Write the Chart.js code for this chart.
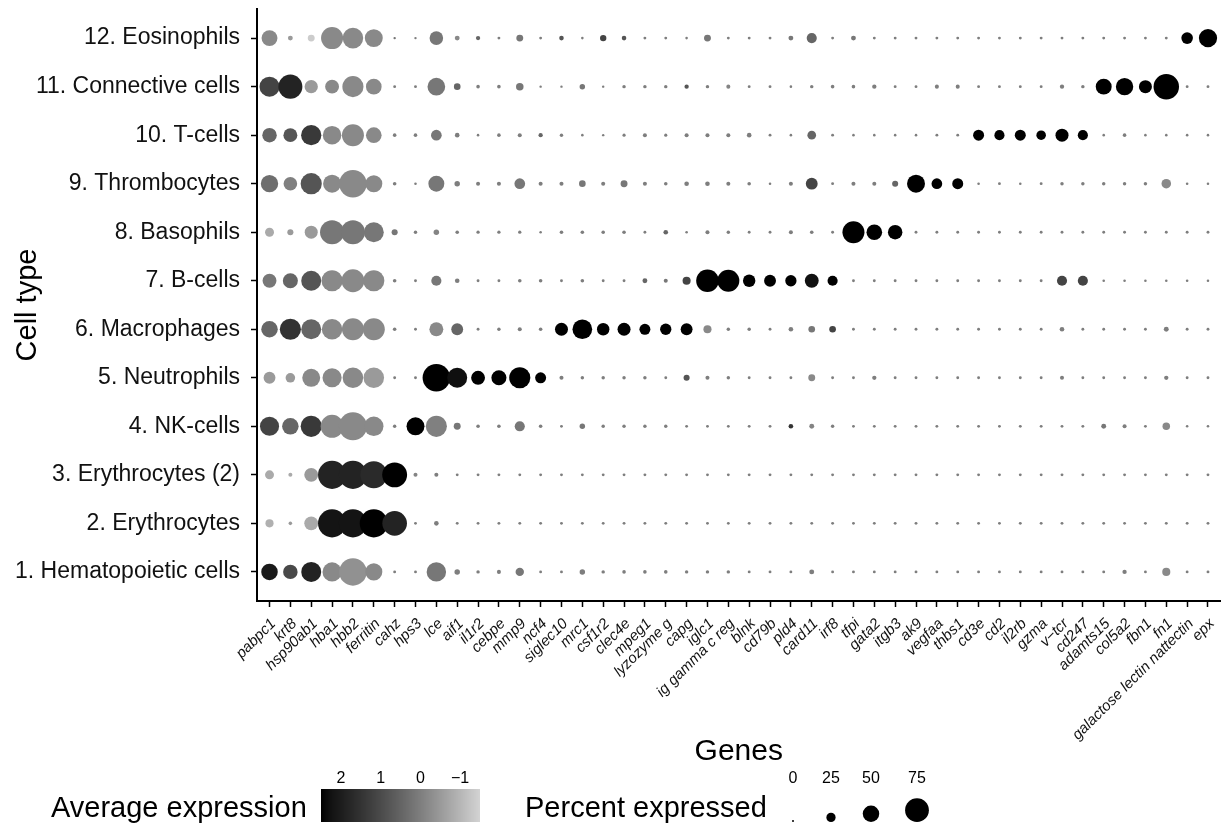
<!DOCTYPE html>
<html><head><meta charset="utf-8">
<script src="https://cdn.jsdelivr.net/npm/chart.js@4/dist/chart.umd.min.js"></script>
<style>html,body{margin:0;padding:0;background:#fff;}canvas{display:block;}</style>
</head><body>
<canvas id="c" width="1222" height="825"></canvas>
<script>
const genes = ["pabpc1","krt8","hsp90ab1","hba1","hbb2","ferritin","cahz","hps3","lce","aif1",
"il1r2","cebpe","mmp9","ncf4","siglec10","mrc1","csf1r2","clec4e","mpeg1","lyzozyme g",
"capg","iglc1","ig gamma c reg","blnk","cd79b","pld4","card11","irf8","tfpi","gata2",
"itgb3","ak9","vegfaa","thbs1","cd3e","cd2","il2rb","gzma","v\u2212tcr","cd247",
"adamts15","col5a2","fbn1","fn1","galactose lectin nattectin","epx"];

const cellTypes = ["1. Hematopoietic cells","2. Erythrocytes","3. Erythrocytes (2)","4. NK-cells",
"5. Neutrophils","6. Macrophages","7. B-cells","8. Basophils","9. Thrombocytes","10. T-cells",
"11. Connective cells","12. Eosinophils"];

// Percent expressed, one array per cell type (gene order as above)
const pctHematopoietic = [50,43,62,59,88,52,3,3,60,12, 5,7,22,3,3,12,5,5.5,5.5,5.5, 5,5,5,3,3,3,10,3,3,3, 3,3,3,3,3,3,3,3,3,3, 3,8,3,21,3,3];
const pctErythrocytes = [21,5.5,41,90,90,90,78,3,9,3, 3,3,3,3,3,3,3,3,3,3, 3,3,3,3,3,3,3,3,3,3, 3,3,3,3,3,3,3,3,3,3, 3,3,3,3,3,3];
const pctErythrocytes2 = [24,7,41,90,90,86,79,7,7,3, 3,3,3,3,3,3,3,3,3,3, 3,3,3,3,3,3,3,3,3,3, 3,3,3,3,3,3,3,3,3,3, 3,3,3,3,3,3];
const pctNK = [59,50,66,72,90,60,5,55,66,17, 5.5,5.5,28,5.5,3,12,5,5,5,5, 3,3,3,3,3,9,10,5,3,3, 3,3,3,3,3,3,3,3,3,3, 10,7,3,19,2,2];
const pctNeutrophils = [34,26,55,59,64,64,3,3,88,62, 41,45,66,31,7,5,5,5,5,3, 14,7,5,3,3,3,17,3,3,8, 3,3,3,3,3,3,3,3,7,3, 3,3,3,8,3,3];
const pctMacrophages = [50,66,62,64,69,69,5.5,3,41,34, 3,5,7,5.5,38,61,36,38,31,32, 34,21,5,5,3,9,16,16,3,3, 3,3,3,3,3,3,3,3,9,3, 3,3,3,10,3,3];
const pctBcells = [41,45,62,66,72,66,5.5,3,28,9, 3,3,5.5,5.5,3,5.5,3,3,10,7, 21,71,69,36,34,32,41,28,3,3, 3,3,3,3,3,3,3,3,28,28, 2,2,2,2,2,2];
const pctBasophils = [24,14,38,76,76,62,14,5,12,5.5, 4.5,4.5,4.5,2,5.5,5.5,5.5,5.5,3,9, 2,7,5,3,3,7,5.5,3,69,47, 43,3,3,3,3,3,3,3,3,3, 3,3,3,3,3,3];
const pctThrombocytes = [53,40,66,55,88,52,5.5,2,48,12, 7,7,30,7,7,16,7,17,7,5.5, 9,9,7,5.5,2,7,34,3,7,7, 14,55,30,31,2,3,2,3,5,5, 5,5,5,26,2,2];
const pctTcells = [43,41,63,57,69,47,5.5,5.5,30,9, 2,5.5,7,8,5,2,1.4,4,7,4, 7,7,7,9,3,2,23,3,2,2, 2,2,3,3,31,28,31,26,38,28, 2,5.5,2,2,2,2];
const pctConnective = [62,76,39,41,66,47,3,3,54,16, 5.5,5.5,19,1.4,1.4,12,1.4,5,5,5, 8,5,7,3,3,2,5,5.5,5.5,8, 3,3,7,7,3,3,3,3,8,5, 48,53,38,81,3,3];
const pctEosinophils = [48,10,17,69,64,55,1.4,1.4,40,10, 8,3,17,3,9,2,15,9,3,3, 2,17,3,3,3,10,28,3,10,3, 3,3,3,3,3,3,3,3,3,3, 3,3,3,3,33,56];

// Average (scaled) expression, one array per cell type
const exprHematopoietic = [2.07,1.03,1.86,-0.2,-0.34,-0.2,0,0,0.14,0, 0,0,0.14,0,0,0,0,0,0,0, 0,0,0,0,0,0,0,0,0,0, 0,0,0,0,0,0,0,0,0,0, 0,0,0,-0.2,0,0];
const exprErythrocytes = [-0.9,-0.5,-0.79,2.2,2.2,2.5,1.86,0,0,0, 0,0,0,0,0,0,0,0,0,0, 0,0,0,0,0,0,0,0,0,0, 0,0,0,0,0,0,0,0,0,0, 0,0,0,0,0,0];
const exprErythrocytes2 = [-0.79,-0.79,-0.5,1.86,1.86,1.7,2.5,-0.1,0,0, 0,0,0,0,0,0,0,0,0,0, 0,0,0,0,0,0,0,0,0,0, 0,0,0,0,0,0,0,0,0,0, 0,0,0,0,0,0];
const exprNK = [1.14,0.46,1.37,-0.2,-0.2,-0.2,0,2.5,-0.03,0.14, 0,0,0.14,0,0,0.14,0,0,0,0, 0,0,0,0,0,1.5,-0.1,0,0,0, 0,0,0,0,0,0,0,0,0,0, 0.14,0,0,-0.2,0,0];
const exprNeutrophils = [-0.5,-0.5,-0.2,-0.2,-0.2,-0.5,0,0,2.5,2.3, 2.5,2.5,2.5,2.5,0,0,0,0,0,0, 0.79,0,0,0,0,0,-0.2,0,0,0, 0,0,0,0,0,0,0,0,0,0, 0,0,0,0,0,0];
const exprMacrophages = [0.46,1.5,0.46,-0.2,-0.2,-0.2,0,0,-0.2,0.46, 0,0,0,0,2.5,2.5,2.5,2.5,2.5,2.5, 2.5,-0.2,0,0,0,0,0.14,1.14,0,0, 0,0,0,0,0,0,0,0,0,0, 0,0,0,0,0,0];
const exprBcells = [0.14,0.46,0.79,-0.2,-0.2,-0.2,0,0,0.14,0, 0,0,0,0,0,0,0,0,0.46,0.14, 1.14,2.5,2.5,2.5,2.5,2.5,2.26,2.5,0,0, 0,0,0,0,0,0,0,0,1.14,1.14, 0,0,0,0,0,0];
const exprBasophils = [-0.79,-0.5,-0.5,0.14,0.14,0.14,0.14,0,-0.1,0, 0,0,0,0,0,0,0,0,0,0.46, 0,0,0,0,0,0,0,0,2.5,2.5, 2.5,0,0,0,0,0,0,0,0,0, 0,0,0,0,0,0];
const exprThrombocytes = [0.3,-0.03,0.79,-0.2,-0.2,-0.2,0,0,0.14,0, 0,0,0.14,0,0,0.14,0,0.14,0,0, 0,0,0,0,0,0,1.14,0,0,0, 0.46,2.5,2.5,2.5,0,0,0,0,0,0, 0,0,0,-0.2,0,0];
const exprTcells = [0.46,0.79,1.37,-0.2,-0.2,-0.2,0,0,0.14,0, 0,0,0,0.46,0,0,0,0,0,0, 0,0,0,0,0,0,0.46,0,0,0, 0,0,0,0,2.5,2.5,2.5,2.5,2.5,2.5, 0,0,0,0,0,0];
const exprConnective = [1.14,1.86,-0.5,-0.2,-0.2,-0.2,0,0,0.14,0.46, 0,0,0.14,0,0,0.14,0,0,0,0, 0.79,0,-0.1,0,0,0,0,0,0,0, 0,0,0,0,0,0,0,0,0,0, 2.5,2.5,2.5,2.5,0,0];
const exprEosinophils = [-0.2,-0.5,-1.38,-0.2,-0.2,-0.2,0.2,0,0.14,-0.2, 0.46,0,0.14,0,0.79,0,1.14,0.79,0,0, 0,0.14,0,0,0,0.14,0.46,0,0.14,0, 0,0,0,0,0,0,0,0,0,0, 0,0,0,0,2.5,2.5];

const colorbarTicks = [2, 1, 0, -1];
const colorbarTickLabels = ["2", "1", "0", "\u22121"];
const exprLimits = [-1.5, 2.5];
const sizeTicks = [0, 25, 50, 75];

const pctRows = [pctHematopoietic,pctErythrocytes,pctErythrocytes2,pctNK,pctNeutrophils,pctMacrophages,pctBcells,pctBasophils,pctThrombocytes,pctTcells,pctConnective,pctEosinophils];
const exprRows = [exprHematopoietic,exprErythrocytes,exprErythrocytes2,exprNK,exprNeutrophils,exprMacrophages,exprBcells,exprBasophils,exprThrombocytes,exprTcells,exprConnective,exprEosinophils];

const FONT = "'Liberation Sans', Arial, Helvetica, sans-serif";
function radius(p){ return 1 + 0.145 * p; }
function grayFor(e){
  const t = Math.max(0, Math.min(1, (exprLimits[1] - e) / (exprLimits[1] - exprLimits[0])));
  const L = 84.6 * t;
  const Y = L > 8 ? Math.pow((L + 16) / 116, 3) : L / 903.3;
  const s = Y <= 0.0031308 ? 12.92 * Y : 1.055 * Math.pow(Y, 1 / 2.4) - 0.055;
  const v = Math.round(Math.max(0, Math.min(1, s)) * 255);
  return `rgb(${v},${v},${v})`;
}

const points = [];
pctRows.forEach((row, r) => {
  row.forEach((p, g) => { points.push({x: g, y: r + 1, p: p, e: exprRows[r][g]}); });
});

const legendPlugin = {
  id: 'dotLegend',
  afterDraw(chart){
    const ctx = chart.ctx;
    ctx.save();
    ctx.fillStyle = '#000';
    ctx.textBaseline = 'alphabetic';
    ctx.textAlign = 'left';
    ctx.font = `29px ${FONT}`;
    ctx.fillText('Average expression', 51, 817);
    const x0 = 321, x1 = 480, y0 = 789, y1 = 822;
    for (let px = x0; px < x1; px++){
      const e = exprLimits[1] - (px - x0 + 0.5) / (x1 - x0) * (exprLimits[1] - exprLimits[0]);
      ctx.fillStyle = grayFor(e);
      ctx.fillRect(px, y0, 1, y1 - y0);
    }
    ctx.fillStyle = '#000';
    ctx.font = `16px ${FONT}`;
    ctx.textAlign = 'center';
    colorbarTicks.forEach((v, i) => {
      const x = x0 + (exprLimits[1] - v) / (exprLimits[1] - exprLimits[0]) * (x1 - x0);
      ctx.fillText(colorbarTickLabels[i], x, 783);
    });
    ctx.textAlign = 'left';
    ctx.font = `29px ${FONT}`;
    ctx.fillText('Percent expressed', 525, 817);
    const keyX = [793, 831, 871, 917];
    sizeTicks.forEach((v, i) => {
      const r = radius(v);
      ctx.beginPath();
      ctx.arc(keyX[i], 822 - r, r, 0, Math.PI * 2);
      ctx.fillStyle = '#000';
      ctx.fill();
      ctx.font = `16px ${FONT}`;
      ctx.textAlign = 'center';
      ctx.fillText(String(v), keyX[i], 783);
    });
    ctx.restore();
  }
};

new Chart(document.getElementById('c'), {
  type: 'scatter',
  data: { datasets: [{
    data: points,
    pointRadius: c => radius(c.raw.p),
    pointHoverRadius: c => radius(c.raw.p),
    backgroundColor: c => grayFor(c.raw.e),
    pointBorderWidth: 0,
    borderWidth: 0,
    clip: false
  }]},
  options: {
    responsive: false,
    animation: false,
    events: [],
    layout: { autoPadding: false, padding: { top: 9, right: 1.5, left: 0, bottom: 0 } },
    plugins: { legend: { display: false }, tooltip: { enabled: false } },
    scales: {
      x: {
        type: 'linear', min: -0.6, max: 45.6,
        afterBuildTicks: s => { s.ticks = genes.map((g, i) => ({ value: i })); },
        afterFit: s => { s.height = 224; s.paddingLeft = 0; s.paddingRight = 0; },
        ticks: { autoSkip: false, minRotation: 45, maxRotation: 45, padding: 8, labelOffset: 4, color: '#111',
                 font: { family: FONT, size: 15, style: 'italic' }, callback: v => genes[v] },
        grid: { display: true, drawOnChartArea: false, drawTicks: true, tickLength: 6, tickColor: '#000', tickWidth: 1.5 },
        border: { display: true, color: '#000', width: 2 },
        title: { display: true, text: 'Genes', color: '#000', font: { family: FONT, size: 30 }, padding: { top: 0, bottom: 55 } }
      },
      y: {
        type: 'linear', min: 0.4, max: 12.6,
        afterBuildTicks: s => { s.ticks = cellTypes.map((c, i) => ({ value: i + 1 })); },
        afterFit: s => { s.width = 257; s.paddingTop = 0; s.paddingBottom = 0; },
        ticks: { autoSkip: false, padding: 11, color: '#111', font: { family: FONT, size: 23 }, callback: v => cellTypes[v - 1] },
        grid: { display: true, drawOnChartArea: false, drawTicks: true, tickLength: 6, tickColor: '#000', tickWidth: 1.5 },
        border: { display: true, color: '#000', width: 2 },
        title: { display: true, text: 'Cell type', color: '#000', font: { family: FONT, size: 29 }, padding: { top: 11, bottom: 0 } }
      }
    }
  },
  plugins: [legendPlugin]
});
</script>
</body></html>
